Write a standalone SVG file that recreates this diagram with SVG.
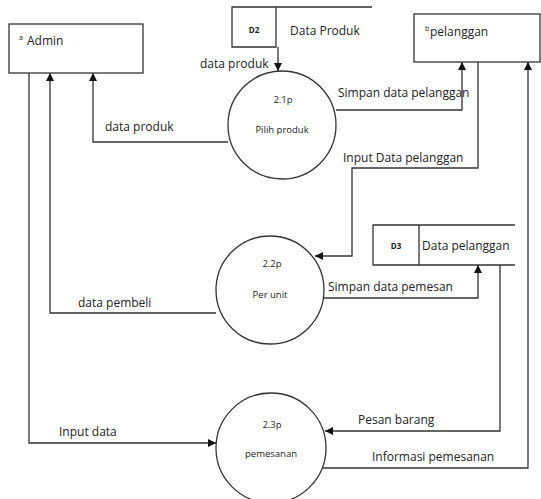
<svg xmlns="http://www.w3.org/2000/svg" width="541" height="499" viewBox="0 0 541 499">
<style>
.s{fill:none;stroke:#333;stroke-width:1.3}
.b{fill:#fff;stroke:#333;stroke-width:1.3}
.t{font-family:"Open Sans","Liberation Sans",sans-serif;font-size:12px;fill:#222}
.c{font-family:"Open Sans","Liberation Sans",sans-serif;font-size:9.5px;fill:#222;text-anchor:middle}
.d{font-family:"Open Sans","Liberation Sans",sans-serif;font-size:8px;font-weight:bold;fill:#222;text-anchor:middle}
.sup{font-family:"Open Sans","Liberation Sans",sans-serif;font-size:7px;fill:#222}
</style>
<defs>
<marker id="a" viewBox="0 0 10 10" refX="10" refY="5" markerWidth="8" markerHeight="8" markerUnits="userSpaceOnUse" orient="auto">
<path d="M0,0 L10,5 L0,10 z" fill="#111"/>
</marker>
</defs>
<rect width="541" height="499" fill="#fff"/>
<g id="connectors">
<path class="s" d="M29,73 V443 H216" marker-end="url(#a)"/>
<path class="s" d="M216,313 H50 V73" marker-end="url(#a)"/>
<path class="s" d="M228,142 H93 V73" marker-end="url(#a)"/>
<path class="s" d="M278,47 V71" marker-end="url(#a)"/>
<path class="s" d="M336,110 H462 V62" marker-end="url(#a)"/>
<path class="s" d="M478,62 V168 H352 V256 H315" marker-end="url(#a)"/>
<path class="s" d="M324,298 H478 V265" marker-end="url(#a)"/>
<path class="s" d="M500,265 V431 H325" marker-end="url(#a)"/>
<path class="s" d="M323,468 H528 V62" marker-end="url(#a)"/>
<text class="t" x="105" y="131">data produk</text>
<text class="t" x="200" y="68">data produk</text>
<text class="t" x="338" y="97">Simpan data pelanggan</text>
<text class="t" x="343" y="162">Input Data pelanggan</text>
<text class="t" x="78" y="307">data pembeli</text>
<text class="t" x="328" y="291">Simpan data pemesan</text>
<text class="t" x="358" y="424">Pesan barang</text>
<text class="t" x="372" y="461">Informasi pemesanan</text>
<text class="t" x="59" y="436">Input data</text>
</g>
<g id="admin">
<rect class="b" x="9" y="24" width="134" height="49"/>
<text class="sup" x="19" y="40">a</text>
<text class="t" x="27" y="45">Admin</text>
</g>
<g id="pelanggan">
<rect class="b" x="414" y="14" width="126" height="48"/>
<text class="sup" x="425" y="31">b</text>
<text class="t" x="430" y="36">pelanggan</text>
</g>
<g id="d2">
<path class="s" d="M372,7 H232 V47 H276 V7"/>
<text class="d" x="254" y="33">D2</text>
<text class="t" x="290" y="35">Data Produk</text>
</g>
<g id="d3">
<path class="s" d="M515,225 H373 V265 H515 M419,225 V265"/>
<text class="d" x="396" y="249">D3</text>
<text class="t" x="422" y="250">Data pelanggan</text>
</g>
<g id="p21">
<circle class="b" cx="282" cy="125" r="54"/>
<text class="c" x="283" y="103">2.1p</text>
<text class="c" x="282" y="133">Pilih produk</text>
</g>
<g id="p22">
<circle class="b" cx="270" cy="290" r="54"/>
<text class="c" x="272" y="267">2.2p</text>
<text class="c" x="270" y="298">Per unit</text>
</g>
<g id="p23">
<circle class="b" cx="271" cy="448" r="55"/>
<text class="c" x="272" y="428">2.3p</text>
<text class="c" x="271" y="457">pemesanan</text>
</g>
</svg>
